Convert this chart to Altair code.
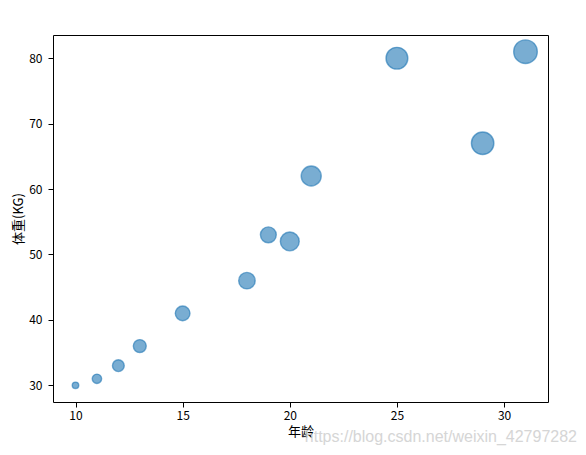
import altair as alt
import pandas as pd

ages = [10, 11, 12, 13, 15, 18, 19, 20, 21, 25, 29, 31]
weights = [30, 31, 33, 36, 41, 46, 53, 52, 62, 80, 67, 81]
sizes = [42, 88, 139, 167, 216, 272, 252, 356, 401, 475, 503, 556]
x_ticks = [10, 15, 20, 25, 30]
y_ticks = [30, 40, 50, 60, 70, 80]
watermark = "https://blog.csdn.net/weixin_42797282"

df = pd.DataFrame({"age": ages, "weight": weights, "size": sizes})
FONT = "Noto Sans CJK SC"

points = alt.Chart(df).mark_circle(
    color="#1f77b4", fillOpacity=0.6, stroke="#1f77b4", strokeOpacity=0.6,
    strokeWidth=1.4, opacity=1
).encode(
    x=alt.X("age:Q", title="年龄",
            scale=alt.Scale(domain=[8.95, 32.05], nice=False, zero=False),
            axis=alt.Axis(values=x_ticks, grid=False, tickSize=5, tickColor="black",
                          domain=False, labelColor="black", labelFontSize=12,
                          labelFont=FONT, labelPadding=3, titleFont=FONT,
                          titleFontSize=13, titleFontWeight="normal",
                          titleColor="black", titlePadding=4)),
    y=alt.Y("weight:Q", title="体重(KG)",
            scale=alt.Scale(domain=[27.45, 83.55], nice=False, zero=False),
            axis=alt.Axis(values=y_ticks, grid=False, tickSize=5, tickColor="black",
                          domain=False, labelColor="black", labelFontSize=12,
                          labelFont=FONT, labelPadding=6, titleFont=FONT,
                          titleFontSize=13, titleFontWeight="normal",
                          titleColor="black", titlePadding=3)),
    size=alt.Size("size:Q", scale=None, legend=None),
)

wm = alt.Chart(pd.DataFrame({"t": [watermark]})).mark_text(
    align="right", baseline="alphabetic", fontSize=16, font="Liberation Sans",
    color="#cccccc", opacity=0.8
).encode(
    text="t:N",
    x=alt.value(524),
    y=alt.value(407),
)

chart = alt.layer(points, wm).properties(
    width=495, height=367,
    autosize=alt.AutoSizeParams(type="none"),
    padding={"left": 45, "top": 27, "right": 30, "bottom": 50},
).configure_view(stroke="black", strokeWidth=1)

chart.save("out.html", embed_options={"renderer": "svg", "actions": False})
